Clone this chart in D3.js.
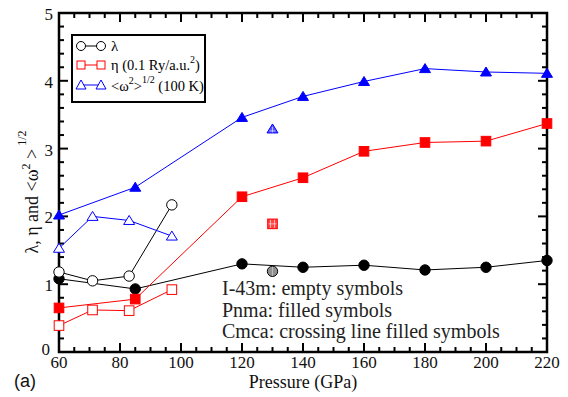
<!DOCTYPE html>
<html><head><meta charset="utf-8">
<script src="https://cdn.jsdelivr.net/npm/d3@7"></script>
<style>body{margin:0;background:#fff}svg{display:block}</style>
</head><body><svg id="c" width="568" height="397"></svg>
<script>
// Pnma (filled)
const pnmaP = [60, 85, 120, 140, 160, 180, 200, 220];
const pnmaLambda = [1.08, 0.93, 1.30, 1.25, 1.28, 1.21, 1.25, 1.35];
const pnmaEta = [0.65, 0.78, 2.29, 2.57, 2.96, 3.09, 3.11, 3.37];
const pnmaOmega = [2.02, 2.43, 3.46, 3.77, 3.99, 4.18, 4.13, 4.11];
// I-43m (empty)
const i43P = [60, 71, 83, 97];
const i43Lambda = [1.18, 1.05, 1.12, 2.17];
const i43Eta = [0.39, 0.62, 0.61, 0.92];
const i43Omega = [1.53, 2.00, 1.94, 1.71];
// Cmca (crossing line filled)
const cmcaP = [130];
const cmcaLambda = [1.19];
const cmcaEta = [1.89];
const cmcaOmega = [3.29];
const xTicks = [60, 80, 100, 120, 140, 160, 180, 200, 220];
const yTicks = [0, 1, 2, 3, 4, 5];

const SERIF = "'Liberation Serif', 'Times New Roman', 'DejaVu Serif', serif";
const svg = d3.select("#c").attr("font-family", SERIF);
const L = 59, R = 547, T = 13, B = 352;
const x = d3.scaleLinear().domain([60, 220]).range([L, R]);
const y = d3.scaleLinear().domain([0, 5]).range([B, T]);

const g = svg.append("g");
const xMinor = d3.range(60, 221, 5);
const yMinor = d3.range(0, 5.001, 0.2);
xMinor.forEach(v => {
  const major = v % 20 === 0;
  const len = major ? 9 : 5;
  g.append("line").attr("x1", x(v)).attr("x2", x(v)).attr("y1", B).attr("y2", B - len).attr("stroke", "#000").attr("stroke-width", 2);
  g.append("line").attr("x1", x(v)).attr("x2", x(v)).attr("y1", T).attr("y2", T + len).attr("stroke", "#000").attr("stroke-width", 2);
});
yMinor.forEach(v => {
  const major = Math.abs(v - Math.round(v)) < 1e-6;
  const len = major ? 9 : 5;
  g.append("line").attr("y1", y(v)).attr("y2", y(v)).attr("x1", L).attr("x2", L + len).attr("stroke", "#000").attr("stroke-width", 2);
  g.append("line").attr("y1", y(v)).attr("y2", y(v)).attr("x1", R).attr("x2", R - len).attr("stroke", "#000").attr("stroke-width", 2);
});
svg.append("rect").attr("x", L).attr("y", T).attr("width", R - L).attr("height", B - T).attr("fill", "none").attr("stroke", "#000").attr("stroke-width", 2.5);

xTicks.forEach(v => {
  svg.append("text").attr("x", x(v)).attr("y", 368).attr("text-anchor", "middle").attr("font-size", 17).attr("fill", "#111").style("font-family", SERIF).text(v);
});
yTicks.forEach(v => {
  svg.append("text").attr("x", v === 0 ? 50 : 53).attr("y", y(v) + (v === 0 ? 3 : 7)).attr("text-anchor", "end").attr("font-size", 17).attr("fill", "#111").style("font-family", SERIF).text(v);
});
svg.append("text").attr("x", 303).attr("y", 388).attr("text-anchor", "middle").attr("font-size", 18).attr("fill", "#111").style("font-family", SERIF).text("Pressure (GPa)");
svg.append("text").attr("x", 14).attr("y", 387).attr("font-size", 18).attr("fill", "#111").style("font-family", "'Liberation Sans', Arial, sans-serif").text("(a)");

const yl = svg.append("text").attr("transform", "translate(38,192) rotate(-90)").attr("text-anchor", "middle").attr("font-size", 18).attr("fill", "#111").style("font-family", SERIF);
yl.append("tspan").text("λ, η  and <ω");
yl.append("tspan").attr("font-size", 12).attr("dy", -8).text("2");
yl.append("tspan").attr("dy", 8).text(" >");
yl.append("tspan").attr("font-size", 12).attr("dy", -12).text(" 1/2");

const line = d3.line().x(d => x(d[0])).y(d => y(d[1]));
const colors = {lambda: "#000", eta: "#ff0000", omega: "#0000ff"};
const zip = (a, b) => a.map((v, i) => [v, b[i]]);

function series(P, vals, color) {
  svg.append("path").attr("d", line(zip(P, vals))).attr("fill", "none").attr("stroke", color).attr("stroke-width", 1);
}
series(pnmaP, pnmaLambda, colors.lambda);
series(pnmaP, pnmaEta, colors.eta);
series(pnmaP, pnmaOmega, colors.omega);
series(i43P, i43Lambda, colors.lambda);
series(i43P, i43Eta, colors.eta);
series(i43P, i43Omega, colors.omega);

function marker(type, cx, cy, color, mode) {
  const fill = mode === "filled" ? color : "#fff";
  let s;
  if (type === "circle") {
    s = svg.append("circle").attr("cx", cx).attr("cy", cy).attr("r", 5.2);
  } else if (type === "square") {
    s = svg.append("rect").attr("x", cx - 4.8).attr("y", cy - 4.8).attr("width", 9.6).attr("height", 9.6);
  } else {
    s = svg.append("path").attr("d", `M${cx},${cy - 5}L${cx + 5.5},${cy + 4}L${cx - 5.5},${cy + 4}Z`);
  }
  if (mode === "cross") {
    const light = type === "circle" ? "#909090" : (type === "square" ? "#ff4444" : "#5555ff");
    s.attr("fill", light).attr("stroke", color).attr("stroke-width", 1);
    const cl = svg.append("g").attr("stroke", type === "circle" ? "#e0e0e0" : "#ffffff").attr("stroke-width", 0.8).attr("opacity", 0.75);
    if (type === "circle") {
      cl.append("line").attr("x1", cx).attr("x2", cx).attr("y1", cy - 4.5).attr("y2", cy + 4.5);
    } else if (type === "square") {
      cl.append("line").attr("x1", cx - 2).attr("x2", cx - 2).attr("y1", cy - 4).attr("y2", cy + 4);
      cl.append("line").attr("x1", cx + 2).attr("x2", cx + 2).attr("y1", cy - 4).attr("y2", cy + 4);
      cl.append("line").attr("x1", cx - 4).attr("x2", cx + 4).attr("y1", cy).attr("y2", cy);
    } else {
      cl.append("line").attr("x1", cx).attr("x2", cx).attr("y1", cy - 2).attr("y2", cy + 3.5);
      cl.append("line").attr("x1", cx - 3).attr("x2", cx + 3).attr("y1", cy + 2).attr("y2", cy + 2);
    }
  } else {
    s.attr("fill", fill).attr("stroke", color).attr("stroke-width", 1);
  }
}
pnmaP.forEach((p, i) => {
  marker("circle", x(p), y(pnmaLambda[i]), colors.lambda, "filled");
  marker("square", x(p), y(pnmaEta[i]), colors.eta, "filled");
  marker("triangle", x(p), y(pnmaOmega[i]), colors.omega, "filled");
});
i43P.forEach((p, i) => {
  marker("circle", x(p), y(i43Lambda[i]), colors.lambda, "empty");
  marker("square", x(p), y(i43Eta[i]), colors.eta, "empty");
  marker("triangle", x(p), y(i43Omega[i]), colors.omega, "empty");
});
cmcaP.forEach((p, i) => {
  marker("circle", x(p), y(cmcaLambda[i]), colors.lambda, "cross");
  marker("square", x(p), y(cmcaEta[i]), colors.eta, "cross");
  marker("triangle", x(p), y(cmcaOmega[i]), colors.omega, "cross");
});

// legend
svg.append("rect").attr("x", 72).attr("y", 35).attr("width", 133).attr("height", 67).attr("fill", "#fff").attr("stroke", "#000").attr("stroke-width", 2);
const leg = [
  {type: "circle", color: colors.lambda, yy: 46},
  {type: "square", color: colors.eta, yy: 65},
  {type: "triangle", color: colors.omega, yy: 85}
];
leg.forEach(l => {
  svg.append("line").attr("x1", 81).attr("x2", 101).attr("y1", l.yy).attr("y2", l.yy).attr("stroke", l.color).attr("stroke-width", 1);
  [81, 101].forEach(cx => {
    if (l.type === "circle") {
      svg.append("circle").attr("cx", cx).attr("cy", l.yy).attr("r", 4.5).attr("fill", "#fff").attr("stroke", l.color).attr("stroke-width", 1);
    } else if (l.type === "square") {
      svg.append("rect").attr("x", cx - 4).attr("y", l.yy - 4).attr("width", 8).attr("height", 8).attr("fill", "#fff").attr("stroke", l.color).attr("stroke-width", 1);
    } else {
      svg.append("path").attr("d", `M${cx},${l.yy - 5}L${cx + 5},${l.yy + 4}L${cx - 5},${l.yy + 4}Z`).attr("fill", "#fff").attr("stroke", l.color).attr("stroke-width", 1);
    }
  });
});
svg.append("text").attr("x", 111).attr("y", 51).attr("font-size", 15).style("font-family", SERIF).text("λ");
const t2 = svg.append("text").attr("x", 111).attr("y", 70).attr("font-size", 14.5).style("font-family", SERIF);
t2.append("tspan").text("η (0.1 Ry/a.u.");
t2.append("tspan").attr("font-size", 10).attr("dy", -7).text("2");
t2.append("tspan").attr("dy", 7).text(")");
const t3 = svg.append("text").attr("x", 111).attr("y", 91).attr("font-size", 14.5).style("font-family", SERIF);
t3.append("tspan").text("<ω");
t3.append("tspan").attr("font-size", 10).attr("dy", -7).text("2");
t3.append("tspan").attr("dy", 7).text(">");
t3.append("tspan").attr("font-size", 10).attr("dy", -8).text("1/2");
t3.append("tspan").attr("dy", 8).text(" (100 K)");

const ann = ["I-43m: empty symbols", "Pnma: filled symbols", "Cmca: crossing line filled symbols"];
ann.forEach((a, i) => {
  svg.append("text").attr("x", 222).attr("y", 295 + i * 21.5).attr("font-size", 20).attr("fill", "#222").style("font-family", SERIF).text(a);
});
</script></body></html>
